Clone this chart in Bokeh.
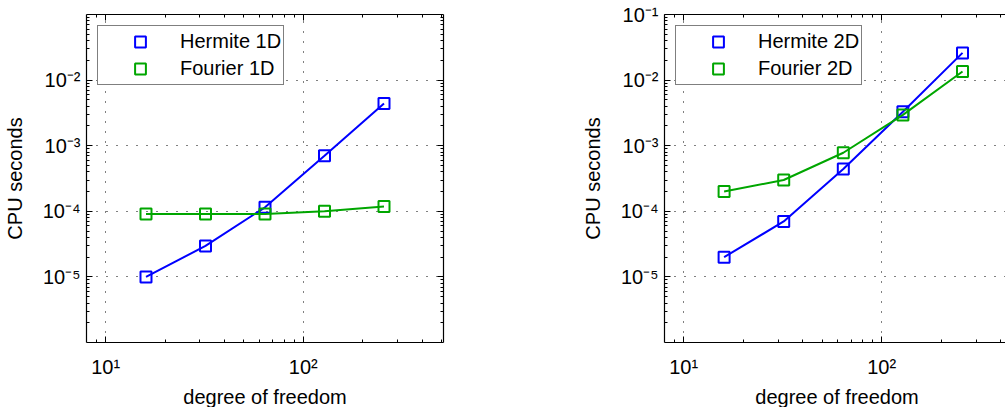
from bokeh.plotting import figure
from bokeh.models import FixedTicker, LogAxis, Legend, LegendItem, Range1d
from bokeh.layouts import row
from bokeh.embed import file_html
from bokeh.resources import INLINE

# ---- data ----
dof = [16, 32, 64, 128, 256]
hermite_1d = [1.0e-5, 2.97e-5, 1.15e-4, 7.0e-4, 4.4e-3]
fourier_1d = [9.1e-5, 9.1e-5, 9.1e-5, 1.0e-4, 1.18e-4]
hermite_2d = [2.0e-5, 7.0e-5, 4.4e-4, 3.3e-3, 2.6e-2]
fourier_2d = [2.0e-4, 3.0e-4, 7.8e-4, 2.95e-3, 1.35e-2]

series_names_1d = ["Hermite 1D", "Fourier 1D"]
series_names_2d = ["Hermite 2D", "Fourier 2D"]

x_tick_values = [10, 100]
x_tick_labels = ["10\u00b9", "10\u00b2"]
x_minor_values = [9, 20, 30, 40, 50, 60, 70, 80, 90, 200, 300, 400, 500]

y_tick_values_1d = [1e-5, 1e-4, 1e-3, 1e-2]
y_tick_labels_1d = ["10\u207b\u2075", "10\u207b\u2074", "10\u207b\u00b3", "10\u207b\u00b2"]
y_tick_values_2d = [1e-5, 1e-4, 1e-3, 1e-2, 1e-1]
y_tick_labels_2d = ["10\u207b\u2075", "10\u207b\u2074", "10\u207b\u00b3", "10\u207b\u00b2", "10\u207b\u00b9"]
y_minor_values = [k * 10.0 ** e for e in range(-6, -1) for k in range(2, 10)]

BLUE = "#0000ff"
GREEN = "#00a600"
FONT = "Liberation Sans"


def style_axis(ax, ticker, overrides=None, show_labels=True):
    ax.ticker = ticker
    ax.major_tick_in = 6
    ax.major_tick_out = 0
    ax.minor_tick_in = 3
    ax.minor_tick_out = 0
    ax.axis_line_color = "black"
    ax.axis_line_width = 1.2
    ax.major_tick_line_color = "black"
    ax.minor_tick_line_color = "black"
    ax.major_label_text_font = FONT
    ax.axis_label_text_font = FONT
    ax.axis_label_text_font_style = "normal"
    ax.axis_label_text_font_size = "20px"
    ax.axis_label_text_color = "black"
    ax.major_label_text_color = "black"
    if show_labels:
        ax.major_label_text_font_size = "20px"
        ax.major_label_overrides = overrides
    else:
        ax.major_label_text_font_size = "0px"
        ax.major_label_standoff = 0
        ax.major_label_overrides = {v: "" for v in ticker.ticks}


def make_fig(frame_w, x_end, y_vals, y_labels, data, names, border_left, border_right, right_axis):
    p = figure(frame_width=frame_w, frame_height=328,
               x_axis_type="log", y_axis_type="log",
               x_range=Range1d(8, x_end), y_range=Range1d(1e-6, 1e-1),
               output_backend="svg", toolbar_location=None,
               min_border_left=border_left, min_border_right=border_right,
               min_border_top=14, min_border_bottom=60,
               outline_line_color=None,
               background_fill_color="white", border_fill_color="white")
    xt = FixedTicker(ticks=x_tick_values, minor_ticks=x_minor_values)
    yt = FixedTicker(ticks=y_vals, minor_ticks=y_minor_values)
    style_axis(p.xaxis[0], xt, dict(zip(x_tick_values, x_tick_labels)))
    style_axis(p.yaxis[0], yt, dict(zip(y_vals, y_labels)))
    p.xaxis.axis_label = "degree of freedom"
    p.yaxis.axis_label = "CPU seconds"
    p.xaxis.major_label_standoff = 13
    p.xaxis.axis_label_standoff = 5
    p.yaxis.major_label_standoff = 6
    p.yaxis.axis_label_standoff = 14

    top = LogAxis()
    style_axis(top, FixedTicker(ticks=x_tick_values, minor_ticks=x_minor_values), show_labels=False)
    p.add_layout(top, "above")
    if right_axis:
        rt = LogAxis()
        style_axis(rt, FixedTicker(ticks=y_vals, minor_ticks=y_minor_values), show_labels=False)
        p.add_layout(rt, "right")

    p.xgrid.ticker = xt
    p.ygrid.ticker = yt
    for g in (p.xgrid, p.ygrid):
        g.grid_line_color = "black"
        g.grid_line_dash = "1 9"
        g.grid_line_width = 1
        g.grid_line_alpha = 1.0
        g.minor_grid_line_color = None

    items = []
    for vals, color, name in zip(data, [BLUE, GREEN], names):
        p.line(dof, vals, line_color=color, line_width=2)
        s = p.scatter(dof, vals, marker="square", size=11, fill_color=None,
                      line_color=color, line_width=2)
        items.append(LegendItem(label=name, renderers=[s]))

    leg = Legend(items=items, location="top_left", margin=11, padding=2,
                 spacing=0, glyph_width=80, glyph_height=27, label_height=20,
                 label_standoff=0, label_text_font=FONT, label_text_font_size="20px",
                 label_text_color="black",
                 border_line_color="black", border_line_width=1.2,
                 background_fill_color="white", background_fill_alpha=1.0)
    p.add_layout(leg)
    return p


p1 = make_fig(357, 512, y_tick_values_1d, y_tick_labels_1d,
              [hermite_1d, fourier_1d], series_names_1d, 84, 135, True)
p2 = make_fig(345, 8 * 10 ** (345 / 198), y_tick_values_2d, y_tick_labels_2d,
              [hermite_2d, fourier_2d], series_names_2d, 80, 0, False)

layout = row(p1, p2)
open("out.html", "w").write(file_html(layout, INLINE))
